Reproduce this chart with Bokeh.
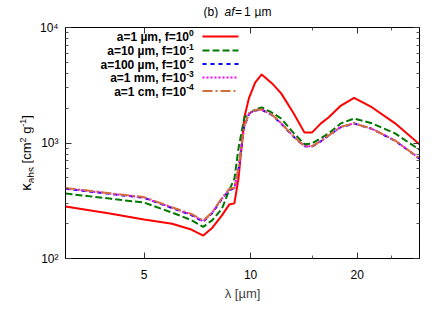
from bokeh.plotting import figure
from bokeh.models import (ColumnDataSource, FixedTicker, LogAxis, Label, Arrow,
                          Range1d, Div)
from bokeh.layouts import column, row
from bokeh.embed import file_html
from bokeh.resources import INLINE

# ---------------- data ----------------
wavelength = [3.0, 4.0, 5.0, 6.0, 6.8, 7.35, 7.8, 8.3, 8.7, 9.0, 9.25, 9.6, 9.9,
              10.3, 10.75, 11.5, 12.2, 13.2, 14.2, 14.9, 15.8, 16.6, 18.0, 19.6,
              22.0, 25.6, 30.0]
k_1um = [282, 245, 218, 200, 178, 158, 185, 236, 293, 300, 500, 1660, 2460,
         3330, 3920, 3280, 2690, 1830, 1230, 1230, 1480, 1660, 2110, 2460,
         2040, 1480, 975]
k_10um = [365, 330, 305, 250, 215, 188, 215, 270, 390, 490, 910, 1660, 1800,
          1950, 2030, 1830, 1630, 1230, 975, 990, 1100, 1210, 1480, 1630,
          1480, 1210, 875]
k_100um = [402, 363, 335, 273, 238, 208, 248, 328, 392, 402, 600, 1390, 1790,
           1910, 1940, 1740, 1470, 1140, 935, 930, 1035, 1155, 1375, 1475,
           1325, 1045, 732]
k_1mm = [404, 365, 337, 275, 240, 210, 250, 330, 395, 405, 605, 1395, 1800,
         1920, 1950, 1750, 1480, 1150, 940, 935, 1040, 1160, 1380, 1480,
         1330, 1050, 735]
k_1cm = [408, 368, 340, 278, 243, 213, 253, 335, 400, 410, 615, 1410, 1810,
         1930, 1955, 1755, 1485, 1150, 940, 935, 1040, 1160, 1380, 1480,
         1330, 1050, 735]

series_main = ["a=1 \u00b5m, f=10", "a=10 \u00b5m, f=10", "a=100 \u00b5m, f=10",
               "a=1 mm, f=10", "a=1 cm, f=10"]
series_exp = ["0", "-1", "-2", "-3", "-4"]
series_values = [k_1um, k_10um, k_100um, k_1mm, k_1cm]
colors = ["#ff0000", "#007800", "#0000ff", "#ff00ff", "#d2703c"]
dashes = ["solid", "7 3", "4 4", "2 2", "10 3 2 3"]
widths = [2, 2, 2, 2, 2]

x_ticks = [5, 10, 20]
x_minor = [15, 25]
y_ticks = [100, 1000, 10000]
y_tick_labels = {100: "10\u00b2", 1000: "10\u00b3", 10000: "10\u2074"}
y_minor = [m * d for d in (100, 1000) for m in range(2, 10)]

FONT = "Liberation Sans"
W, H = 436, 327
HT = 18          # height of the title strip
WL = 33          # width of the y-label strip
# frame placement in page pixels
FL, FR, FT, FB = 65, 419, 27, 258

# ---------------- main plot ----------------
p = figure(x_axis_type="log", y_axis_type="log",
           x_range=Range1d(3, 30), y_range=Range1d(100, 10000),
           output_backend="svg", toolbar_location=None,
           min_border_left=FL - WL, min_border_right=W - FR,
           min_border_top=FT - HT, min_border_bottom=H - FB)
p.frame_width = FR - FL
p.frame_height = FB - FT
p.background_fill_color = "white"
p.border_fill_color = "white"
p.outline_line_color = "black"
p.grid.visible = False

for vals, c, d, w in zip(series_values, colors, dashes, widths):
    src = ColumnDataSource(dict(x=wavelength, y=vals))
    p.line("x", "y", source=src, line_color=c, line_dash=d, line_width=w)

def style_axis(ax, labels=True):
    ax.axis_line_color = "black"
    ax.major_tick_in = 6
    ax.major_tick_out = 0
    ax.minor_tick_in = 3
    ax.minor_tick_out = 0
    ax.major_tick_line_color = "#333333"
    ax.minor_tick_line_color = "#555555"
    ax.major_label_text_font = FONT
    ax.major_label_text_font_size = "12px"
    ax.major_label_text_color = "black"
    if not labels:
        ax.major_label_text_color = None
        ax.major_label_text_font_size = "6px"
        ax.major_label_standoff = 0

xa = p.xaxis[0]
xa.ticker = FixedTicker(ticks=x_ticks, minor_ticks=x_minor)
style_axis(xa)
xa.major_label_standoff = 11
xa.major_label_overrides = {t: str(t) for t in x_ticks}
xa.axis_label = "\u03bb [\u00b5m]"
xa.axis_label_text_font = FONT
xa.axis_label_text_font_style = "normal"
xa.axis_label_text_font_size = "13px"
xa.axis_label_standoff = 4

ya = p.yaxis[0]
ya.ticker = FixedTicker(ticks=y_ticks, minor_ticks=y_minor)
style_axis(ya)
ya.major_label_overrides = y_tick_labels
ya.major_label_standoff = 7

top = LogAxis(ticker=FixedTicker(ticks=x_ticks, minor_ticks=x_minor))
style_axis(top, labels=False)
top.major_label_overrides = {t: str(t) for t in x_ticks}
p.add_layout(top, "above")
right = LogAxis(ticker=FixedTicker(ticks=y_ticks, minor_ticks=y_minor))
style_axis(right, labels=False)
right.major_label_overrides = y_tick_labels
p.add_layout(right, "right")

def add_label(fig, x, y, text, size="12px", style="normal", align="left",
              baseline="middle"):
    fig.add_layout(Label(x=x, y=y, x_units="screen", y_units="screen",
                         text=text, text_font=FONT, text_font_size=size,
                         text_font_style=style, text_align=align,
                         text_baseline=baseline, text_color="black"))

# legend (inside the frame; screen units are frame-relative, y up)
row_y = [36, 50, 63.5, 77, 90.5]
for name, ex, c, d, w, ry in zip(series_main, series_exp, colors, dashes, widths, row_y):
    exw = 4.5 if len(ex) == 1 else 7.3
    add_label(p, 193 - exw - FL, FB - (ry + 0.5), name, "12px", style="bold", align="right")
    add_label(p, 193 - exw - FL, FB - (ry - 4), ex, "8.5px", style="bold", align="left")
    p.add_layout(Arrow(end=None, x_start=202 - FL, y_start=FB - ry, x_end=238 - FL,
                       y_end=FB - ry, start_units="screen", end_units="screen",
                       line_color=c, line_dash=d, line_width=w))

# ---------------- title strip ----------------
tfig = figure(width=W, height=HT, x_range=Range1d(0, 1), y_range=Range1d(0, 1),
              x_axis_location=None, y_axis_location=None, min_border=0,
              output_backend="svg", toolbar_location=None)
tfig.outline_line_color = None
tfig.grid.visible = False
tfig.border_fill_color = "white"
for X, txt, st in [(203, "(b)", "normal"), (224, "af", "italic"), (234.5, "=", "normal"),
                   (243.5, "1", "normal"), (254, "\u00b5m", "normal")]:
    add_label(tfig, X, HT - 11, txt, "12px", style=st)

# ---------------- y-label strip (vertical HTML text via writing-mode) ----------------
sup = "vertical-align:super; font-size:9px; line-height:0;"
ylabel_html = (
    f'<div style="position:relative; width:{WL}px; height:{H - HT}px; overflow:visible;">'
    f'<div style="position:absolute; left:19px; top:89px; height:92px; width:16px; '
    'writing-mode:vertical-rl; writing-mode:sideways-lr; text-align:center; '
    f'white-space:nowrap; font-family:\'{FONT}\'; font-size:13px; line-height:13px; color:black;">'
    '<span style="font-size:15px;">\u03ba</span>'
    '<span style="vertical-align:sub; font-size:10px; line-height:0;">abs</span>'
    f' [cm<span style="{sup}">2</span>'
    f' g<span style="{sup}">-1</span>]'
    '</div></div>'
)
ldiv = Div(text=ylabel_html, width=WL, height=H - HT, margin=(0, 0, 0, 0))

layout = column(tfig, row(ldiv, p, spacing=0), spacing=0)
open("out.html", "w").write(file_html(layout, INLINE))
